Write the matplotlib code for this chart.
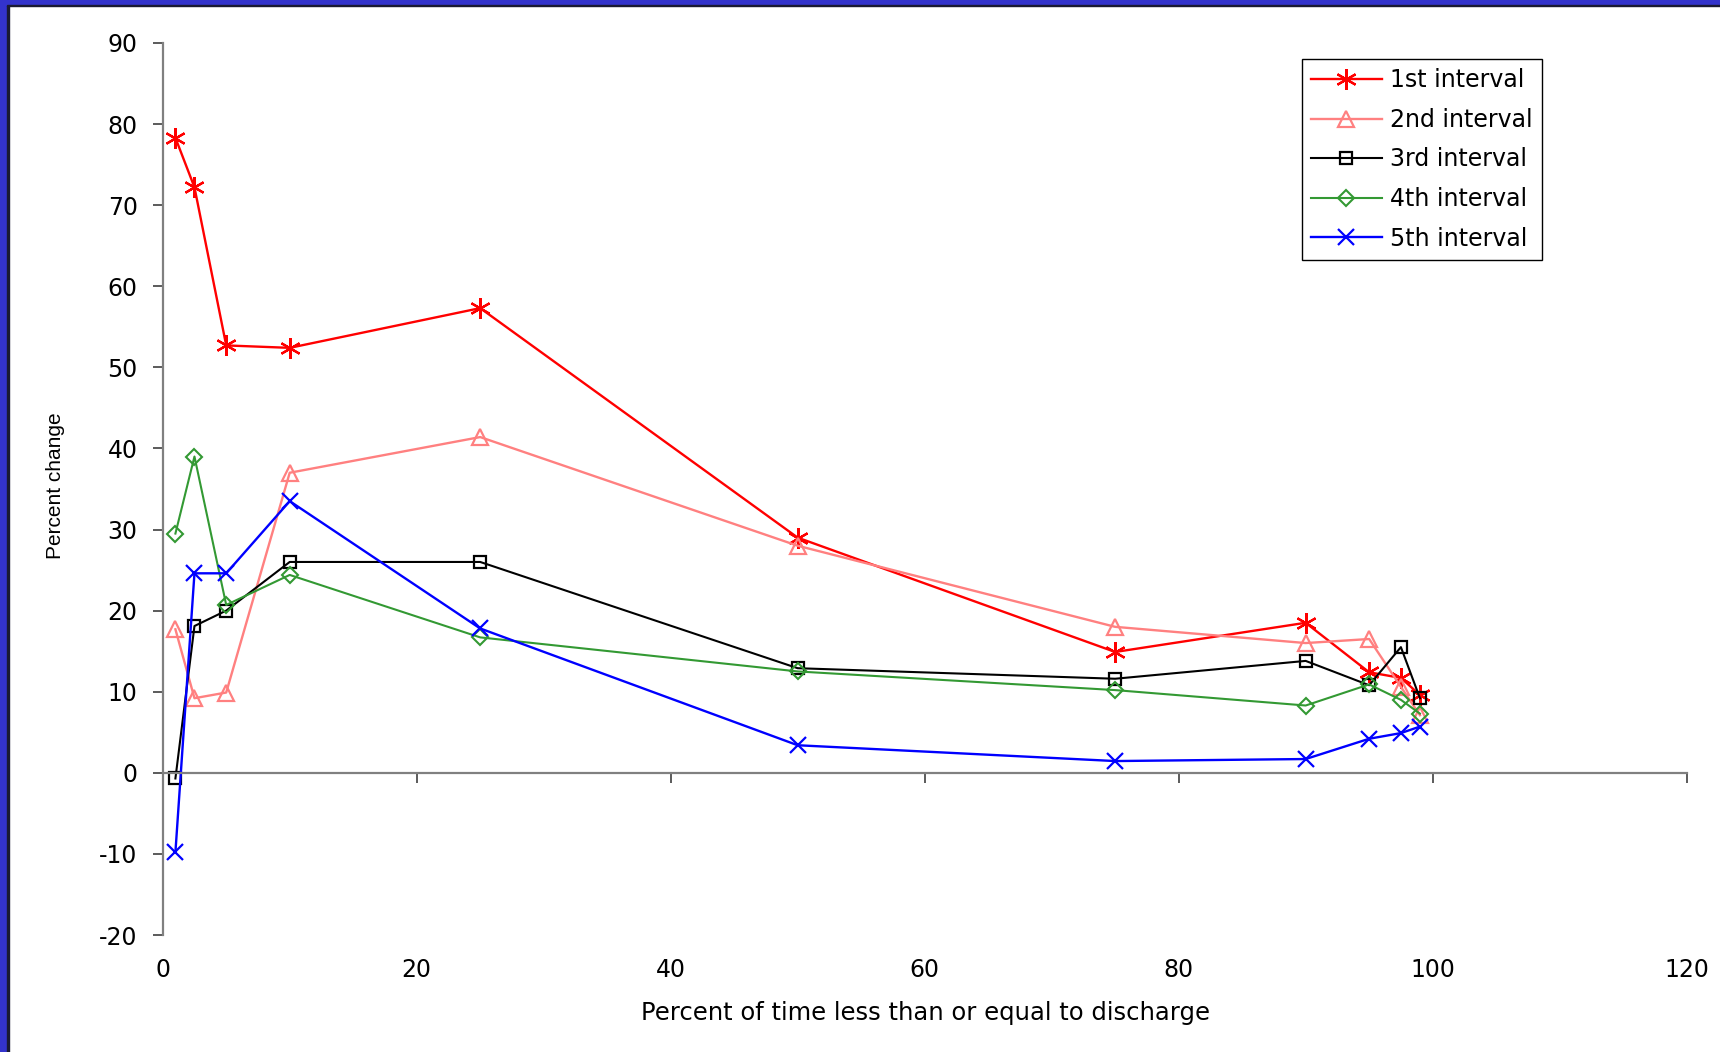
import matplotlib
matplotlib.use("Agg")
import matplotlib.pyplot as plt
from matplotlib.patches import Rectangle

# === Data ===
pct_time = [1, 2.5, 5, 10, 25, 50, 75, 90, 95, 97.5, 99]

first_interval = [78.3, 72.2, 52.7, 52.4, 57.3, 29.0, 14.9, 18.5, 12.4, 11.7, 9.6]
second_interval = [17.7, 9.2, 9.9, 37.0, 41.4, 28.0, 18.0, 16.0, 16.5, 10.6, 7.1]
third_interval = [-0.7, 18.1, 20.0, 26.0, 26.0, 12.9, 11.6, 13.8, 10.8, 15.5, 9.2]
fourth_interval = [29.5, 39.0, 20.7, 24.4, 16.7, 12.5, 10.2, 8.3, 10.9, 9.0, 7.3]
fifth_interval = [-9.8, 24.6, 24.6, 33.5, 17.8, 3.4, 1.45, 1.7, 4.2, 4.9, 5.7]

labels = ["1st interval", "2nd interval", "3rd interval", "4th interval", "5th interval"]
x_ticks = [0, 20, 40, 60, 80, 100, 120]
y_ticks = [-20, -10, 0, 10, 20, 30, 40, 50, 60, 70, 80, 90]

plt.rcParams['font.family'] = ['DejaVu Sans']
plt.rcParams['axes.unicode_minus'] = False

fig = plt.figure(figsize=(17.2, 10.52), dpi=100)
ax = fig.add_axes([0.0946, 0.1112, 0.886, 0.848])

# === Series ===
ax.plot(pct_time, first_interval, color='#FF0000', lw=1.7,
        marker=(6, 2, 0), ms=15, mew=1.6, label=labels[0])
ax.plot(pct_time, second_interval, color='#FF8080', lw=1.7,
        marker='^', ms=11, mfc='none', mew=1.6, label=labels[1])
ax.plot(pct_time, third_interval, color='#000000', lw=1.5,
        marker='s', ms=9, mfc='none', mew=1.6, label=labels[2])
ax.plot(pct_time, fourth_interval, color='#339933', lw=1.5,
        marker='D', ms=8, mfc='none', mew=1.5, label=labels[3])
ax.plot(pct_time, fifth_interval, color='#0000FF', lw=1.7,
        marker='x', ms=12, mew=1.6, label=labels[4])

# === Axes ===
ax.set_xlim(0, 120)
ax.set_ylim(-20, 90)
ax.set_xticks(x_ticks)
ax.set_yticks(y_ticks)

for s in ['top', 'right']:
    ax.spines[s].set_visible(False)
ax.spines['left'].set_color('#808080')
ax.spines['left'].set_linewidth(1.6)
ax.spines['bottom'].set_color('#808080')
ax.spines['bottom'].set_linewidth(1.6)
ax.spines['bottom'].set_position(('data', 0))

ax.tick_params(axis='y', direction='out', length=7, width=1.2, color='#404040',
               labelsize=17, pad=11)
ax.tick_params(axis='x', direction='out', length=7, width=1.2, color='#404040',
               labelsize=17, pad=126)

fig.text(0.538, 0.037, "Percent of time less than or equal to discharge",
         ha='center', va='center', fontsize=17.5)
fig.text(0.032, 0.538, "Percent change", rotation=90,
         ha='center', va='center', fontsize=15, family=['Liberation Sans'])

# === Legend ===
leg = ax.legend(loc='upper left', bbox_to_anchor=(0.7568, 0.9436),
                bbox_transform=fig.transFigure, fontsize=17, frameon=True,
                fancybox=False, edgecolor='black', framealpha=1,
                borderaxespad=0, handlelength=3.0, labelspacing=0.66,
                borderpad=0.38, handletextpad=0.36)
leg.get_frame().set_linewidth(1.0)

# === Slide-style blue frame on left and top ===
fig.patches.append(Rectangle((0, 0), 7 / 1720, 1, transform=fig.transFigure,
                             color='#3333CC', zorder=10))
fig.patches.append(Rectangle((7 / 1720, 0), 1.7 / 1720, 1 - 5 / 1052,
                             transform=fig.transFigure, color='#1a1a33', zorder=10))
fig.patches.append(Rectangle((0, 1 - 5 / 1052), 1, 5 / 1052, transform=fig.transFigure,
                             color='#3333CC', zorder=10))
fig.patches.append(Rectangle((7 / 1720, 1 - 6.4 / 1052), 1, 1.4 / 1052,
                             transform=fig.transFigure, color='#1a1a33', zorder=10))

fig.savefig("out.png", dpi=100)
plt.close(fig)
